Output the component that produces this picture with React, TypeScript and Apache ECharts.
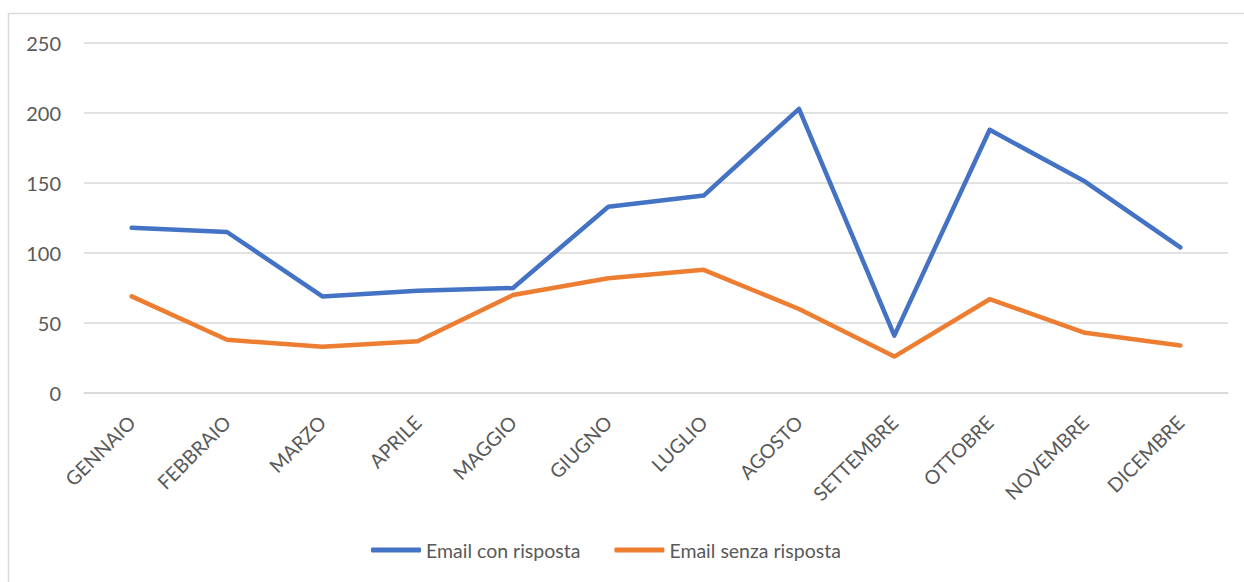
import React, { useEffect, useRef } from "react";
import * as echarts from "echarts";

const categories = ["GENNAIO", "FEBBRAIO", "MARZO", "APRILE", "MAGGIO", "GIUGNO", "LUGLIO", "AGOSTO", "SETTEMBRE", "OTTOBRE", "NOVEMBRE", "DICEMBRE"];
const emailConRisposta = [118, 115, 69, 73, 75, 133, 141, 203, 41, 188, 151, 104];
const emailSenzaRisposta = [69, 38, 33, 37, 70, 82, 88, 60, 26, 67, 43, 34];
const seriesNames = ["Email con risposta", "Email senza risposta"];

const FONT = "Lato, 'Open Sans', sans-serif";
const TEXT = "#595959";

export default function App() {
  const ref = useRef<HTMLDivElement>(null);
  useEffect(() => {
    if (!ref.current) return;
    const chart = echarts.init(ref.current, undefined, { renderer: "svg" });
    chart.setOption({
      animation: false,
      backgroundColor: "#ffffff",
      graphic: [
        {
          type: "rect",
          shape: { x: 8.5, y: 13.5, width: 1260, height: 600 },
          style: { fill: "none", stroke: "#d9d9d9", lineWidth: 1.5 },
          silent: true,
        },
      ],
      grid: { left: 84, right: 16, top: 43, bottom: 189, containLabel: false },
      legend: {
        bottom: 17,
        left: 366,
        icon: "roundRect",
        itemWidth: 50,
        itemHeight: 5,
        itemGap: 34,
        textStyle: { color: TEXT, fontSize: 19.5, fontFamily: FONT },
        data: seriesNames,
      },
      xAxis: {
        type: "category",
        data: categories,
        boundaryGap: true,
        axisLine: { show: true, lineStyle: { color: "#d9d9d9", width: 1.5 } },
        axisTick: { show: false },
        axisLabel: { rotate: 45, margin: 26, color: TEXT, fontSize: 19.5, fontFamily: FONT, interval: 0 },
      },
      yAxis: {
        type: "value",
        min: 0,
        max: 250,
        interval: 50,
        axisLine: { show: false },
        axisTick: { show: false },
        splitLine: { lineStyle: { color: "#d9d9d9", width: 1.5 } },
        axisLabel: { margin: 23, color: TEXT, fontSize: 20, fontFamily: FONT },
      },
      series: [
        {
          name: seriesNames[0],
          type: "line",
          data: emailConRisposta,
          symbol: "none",
          lineStyle: { color: "#4472C4", width: 4.5, cap: "round", join: "round" },
          itemStyle: { color: "#4472C4" },
        },
        {
          name: seriesNames[1],
          type: "line",
          data: emailSenzaRisposta,
          symbol: "none",
          lineStyle: { color: "#ED7D31", width: 4.5, cap: "round", join: "round" },
          itemStyle: { color: "#ED7D31" },
        },
      ],
    });
    return () => chart.dispose();
  }, []);
  return <div ref={ref} style={{ position: "fixed", left: 0, top: 0, width: 1244, height: 582 }} />;
}
